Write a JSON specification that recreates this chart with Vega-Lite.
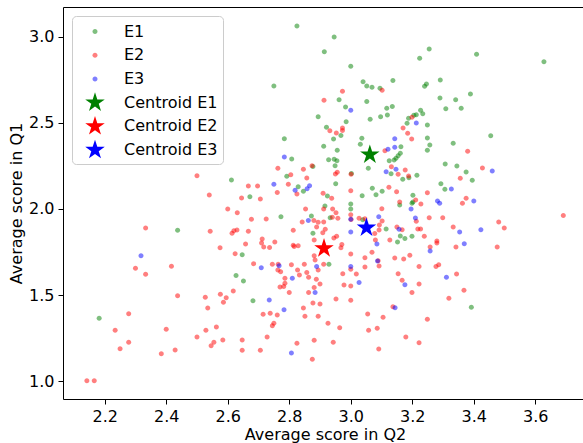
{
"$schema":"https://vega.github.io/schema/vega-lite/v6.json",
"width":520,"height":392,
"autosize":{"type":"none"},
"padding":{"left":63,"top":7,"right":0,"bottom":44},
"datasets":{
"pts":[
{"q2":2.825,"q1":3.062,"group":"E1"},{"q2":2.946,"q1":2.998,"group":"E1"},{"q2":2.914,"q1":2.913,"group":"E1"},{"q2":3.000,"q1":2.828,"group":"E1"},{"q2":2.750,"q1":2.714,"group":"E1"},{"q2":3.040,"q1":2.739,"group":"E1"},{"q2":3.052,"q1":2.714,"group":"E1"},{"q2":3.069,"q1":2.706,"group":"E1"},{"q2":3.095,"q1":2.700,"group":"E1"},{"q2":3.137,"q1":2.745,"group":"E1"},{"q2":2.962,"q1":2.634,"group":"E1"},{"q2":2.983,"q1":2.592,"group":"E1"},{"q2":3.052,"q1":2.623,"group":"E1"},{"q2":3.117,"q1":2.584,"group":"E1"},{"q2":3.135,"q1":2.594,"group":"E1"},{"q2":3.097,"q1":2.535,"group":"E1"},{"q2":3.119,"q1":2.545,"group":"E1"},{"q2":3.063,"q1":2.520,"group":"E1"},{"q2":3.188,"q1":2.526,"group":"E1"},{"q2":2.894,"q1":2.535,"group":"E1"},{"q2":2.985,"q1":2.506,"group":"E1"},{"q2":2.921,"q1":2.474,"group":"E1"},{"q2":2.968,"q1":2.427,"group":"E1"},{"q2":2.944,"q1":2.406,"group":"E1"},{"q2":2.784,"q1":2.408,"group":"E1"},{"q2":3.036,"q1":2.410,"group":"E1"},{"q2":3.183,"q1":2.497,"group":"E1"},
{"q2":3.255,"q1":2.929,"group":"E1"},{"q2":3.224,"q1":2.875,"group":"E1"},{"q2":3.409,"q1":2.898,"group":"E1"},{"q2":3.628,"q1":2.855,"group":"E1"},{"q2":3.291,"q1":2.749,"group":"E1"},{"q2":3.246,"q1":2.725,"group":"E1"},{"q2":3.240,"q1":2.712,"group":"E1"},{"q2":3.389,"q1":2.667,"group":"E1"},{"q2":3.290,"q1":2.644,"group":"E1"},{"q2":3.341,"q1":2.634,"group":"E1"},{"q2":3.309,"q1":2.582,"group":"E1"},{"q2":3.359,"q1":2.584,"group":"E1"},{"q2":3.227,"q1":2.573,"group":"E1"},{"q2":3.234,"q1":2.553,"group":"E1"},{"q2":3.213,"q1":2.547,"group":"E1"},{"q2":3.205,"q1":2.544,"group":"E1"},{"q2":3.249,"q1":2.487,"group":"E1"},{"q2":3.249,"q1":2.412,"group":"E1"},{"q2":3.455,"q1":2.425,"group":"E1"},
{"q2":2.612,"q1":2.168,"group":"E1"},{"q2":2.437,"q1":1.876,"group":"E1"},
{"q2":2.912,"q1":2.364,"group":"E1"},{"q2":2.956,"q1":2.340,"group":"E1"},{"q2":3.031,"q1":2.375,"group":"E1"},{"q2":3.163,"q1":2.361,"group":"E1"},{"q2":3.154,"q1":2.309,"group":"E1"},{"q2":3.161,"q1":2.323,"group":"E1"},{"q2":3.147,"q1":2.294,"group":"E1"},{"q2":3.141,"q1":2.284,"group":"E1"},{"q2":3.125,"q1":2.280,"group":"E1"},{"q2":2.808,"q1":2.290,"group":"E1"},{"q2":2.928,"q1":2.286,"group":"E1"},{"q2":2.946,"q1":2.288,"group":"E1"},{"q2":2.955,"q1":2.280,"group":"E1"},{"q2":2.877,"q1":2.246,"group":"E1"},{"q2":2.949,"q1":2.251,"group":"E1"},{"q2":3.002,"q1":2.205,"group":"E1"},{"q2":3.057,"q1":2.236,"group":"E1"},{"q2":3.131,"q1":2.204,"group":"E1"},{"q2":3.169,"q1":2.172,"group":"E1"},{"q2":2.792,"q1":2.189,"group":"E1"},{"q2":2.829,"q1":2.129,"group":"E1"},{"q2":2.846,"q1":2.102,"group":"E1"},{"q2":2.951,"q1":2.146,"group":"E1"},{"q2":2.924,"q1":2.075,"group":"E1"},{"q2":3.037,"q1":2.077,"group":"E1"},{"q2":3.070,"q1":2.120,"group":"E1"},{"q2":3.102,"q1":2.102,"group":"E1"},{"q2":3.082,"q1":2.082,"group":"E1"},{"q2":3.159,"q1":2.023,"group":"E1"},{"q2":2.672,"q1":2.071,"group":"E1"},{"q2":2.916,"q1":2.017,"group":"E1"},{"q2":3.000,"q1":2.028,"group":"E1"},{"q2":3.000,"q1":1.999,"group":"E1"},{"q2":2.933,"q1":1.949,"group":"E1"},{"q2":2.872,"q1":1.959,"group":"E1"},{"q2":2.877,"q1":1.858,"group":"E1"},{"q2":2.773,"q1":1.955,"group":"E1"},{"q2":2.647,"q1":1.734,"group":"E1"},{"q2":2.929,"q1":1.678,"group":"E1"},{"q2":3.039,"q1":1.937,"group":"E1"},{"q2":3.115,"q1":1.883,"group":"E1"},{"q2":3.161,"q1":1.843,"group":"E1"},{"q2":3.176,"q1":1.828,"group":"E1"},{"q2":3.152,"q1":1.808,"group":"E1"},
{"q2":3.257,"q1":2.371,"group":"E1"},{"q2":3.249,"q1":2.340,"group":"E1"},{"q2":3.333,"q1":2.381,"group":"E1"},{"q2":3.307,"q1":2.261,"group":"E1"},{"q2":3.345,"q1":2.249,"group":"E1"},{"q2":3.375,"q1":2.214,"group":"E1"},{"q2":3.395,"q1":2.166,"group":"E1"},{"q2":3.189,"q1":2.181,"group":"E1"},{"q2":3.215,"q1":2.195,"group":"E1"},{"q2":3.293,"q1":2.146,"group":"E1"},{"q2":3.306,"q1":2.114,"group":"E1"},{"q2":3.202,"q1":2.079,"group":"E1"},{"q2":3.199,"q1":2.033,"group":"E1"},{"q2":3.202,"q1":2.040,"group":"E1"},{"q2":3.199,"q1":1.841,"group":"E1"},
{"q2":2.627,"q1":1.614,"group":"E1"},{"q2":2.182,"q1":1.365,"group":"E1"},{"q2":2.651,"q1":1.581,"group":"E1"},{"q2":2.682,"q1":1.467,"group":"E1"},{"q2":3.392,"q1":1.429,"group":"E1"},
{"q2":3.102,"q1":2.689,"group":"E2"},{"q2":2.973,"q1":2.683,"group":"E2"},{"q2":2.913,"q1":2.631,"group":"E2"},{"q2":2.932,"q1":2.454,"group":"E2"},{"q2":2.953,"q1":2.441,"group":"E2"},{"q2":2.973,"q1":2.470,"group":"E2"},{"q2":2.973,"q1":2.455,"group":"E2"},{"q2":3.170,"q1":2.470,"group":"E2"},{"q2":3.185,"q1":2.439,"group":"E2"},{"q2":3.199,"q1":2.532,"group":"E2"},{"q2":3.198,"q1":2.406,"group":"E2"},
{"q2":2.500,"q1":2.193,"group":"E2"},{"q2":2.540,"q1":2.081,"group":"E2"},{"q2":2.600,"q1":1.999,"group":"E2"},{"q2":2.333,"q1":1.889,"group":"E2"},{"q2":2.543,"q1":1.870,"group":"E2"},{"q2":2.614,"q1":1.858,"group":"E2"},{"q2":2.620,"q1":1.873,"group":"E2"},{"q2":2.575,"q1":1.775,"group":"E2"},{"q2":2.300,"q1":1.655,"group":"E2"},{"q2":2.417,"q1":1.667,"group":"E2"},{"q2":2.624,"q1":1.740,"group":"E2"},
{"q2":3.111,"q1":2.338,"group":"E2"},{"q2":2.874,"q1":2.251,"group":"E2"},{"q2":2.763,"q1":2.236,"group":"E2"},{"q2":2.846,"q1":2.230,"group":"E2"},{"q2":2.956,"q1":2.213,"group":"E2"},{"q2":2.950,"q1":2.203,"group":"E2"},{"q2":3.001,"q1":2.201,"group":"E2"},{"q2":3.132,"q1":2.245,"group":"E2"},{"q2":3.154,"q1":2.201,"group":"E2"},{"q2":3.177,"q1":2.226,"group":"E2"},{"q2":2.805,"q1":2.199,"group":"E2"},{"q2":2.857,"q1":2.179,"group":"E2"},{"q2":2.797,"q1":2.143,"group":"E2"},{"q2":2.667,"q1":2.133,"group":"E2"},{"q2":2.697,"q1":2.133,"group":"E2"},{"q2":2.761,"q1":2.096,"group":"E2"},{"q2":2.825,"q1":2.087,"group":"E2"},{"q2":2.910,"q1":2.091,"group":"E2"},{"q2":2.938,"q1":2.062,"group":"E2"},{"q2":3.000,"q1":2.106,"group":"E2"},{"q2":3.124,"q1":2.126,"group":"E2"},{"q2":3.149,"q1":2.100,"group":"E2"},{"q2":3.159,"q1":2.040,"group":"E2"},{"q2":2.645,"q1":2.063,"group":"E2"},{"q2":2.706,"q1":2.058,"group":"E2"},{"q2":2.631,"q1":1.978,"group":"E2"},{"q2":2.853,"q1":1.999,"group":"E2"},{"q2":2.912,"q1":1.999,"group":"E2"},{"q2":2.941,"q1":1.999,"group":"E2"},{"q2":2.952,"q1":1.978,"group":"E2"},{"q2":2.958,"q1":1.946,"group":"E2"},{"q2":2.940,"q1":1.951,"group":"E2"},{"q2":2.842,"q1":1.924,"group":"E2"},{"q2":2.880,"q1":1.932,"group":"E2"},{"q2":2.894,"q1":1.922,"group":"E2"},{"q2":2.912,"q1":1.924,"group":"E2"},{"q2":2.889,"q1":1.895,"group":"E2"},{"q2":2.917,"q1":1.882,"group":"E2"},{"q2":2.909,"q1":1.862,"group":"E2"},{"q2":2.881,"q1":1.819,"group":"E2"},{"q2":2.945,"q1":1.831,"group":"E2"},{"q2":2.954,"q1":1.841,"group":"E2"},{"q2":2.971,"q1":1.794,"group":"E2"},{"q2":2.968,"q1":1.775,"group":"E2"},{"q2":2.813,"q1":1.876,"group":"E2"},{"q2":2.813,"q1":1.789,"group":"E2"},{"q2":2.816,"q1":1.781,"group":"E2"},{"q2":2.725,"q1":1.941,"group":"E2"},{"q2":2.677,"q1":1.940,"group":"E2"},{"q2":2.630,"q1":1.878,"group":"E2"},{"q2":2.667,"q1":1.870,"group":"E2"},{"q2":2.712,"q1":1.825,"group":"E2"},{"q2":2.710,"q1":1.802,"group":"E2"},{"q2":2.717,"q1":1.779,"group":"E2"},{"q2":2.736,"q1":1.776,"group":"E2"},{"q2":2.658,"q1":1.796,"group":"E2"},{"q2":2.753,"q1":1.808,"group":"E2"},{"q2":2.829,"q1":1.786,"group":"E2"},{"q2":2.684,"q1":1.682,"group":"E2"},{"q2":2.745,"q1":1.678,"group":"E2"},{"q2":2.764,"q1":1.678,"group":"E2"},{"q2":2.807,"q1":1.676,"group":"E2"},{"q2":2.849,"q1":1.678,"group":"E2"},{"q2":2.827,"q1":1.645,"group":"E2"},{"q2":2.881,"q1":1.728,"group":"E2"},{"q2":2.884,"q1":1.703,"group":"E2"},{"q2":2.912,"q1":1.678,"group":"E2"},{"q2":3.000,"q1":1.738,"group":"E2"},{"q2":3.000,"q1":1.966,"group":"E2"},{"q2":3.001,"q1":1.938,"group":"E2"},{"q2":3.027,"q1":1.946,"group":"E2"},{"q2":3.046,"q1":1.943,"group":"E2"},{"q2":3.101,"q1":2.001,"group":"E2"},{"q2":3.102,"q1":1.930,"group":"E2"},{"q2":3.093,"q1":1.907,"group":"E2"},{"q2":3.092,"q1":1.878,"group":"E2"},{"q2":3.150,"q1":1.895,"group":"E2"},{"q2":3.167,"q1":1.879,"group":"E2"},{"q2":3.127,"q1":1.819,"group":"E2"},{"q2":3.078,"q1":1.857,"group":"E2"},{"q2":3.080,"q1":1.819,"group":"E2"},{"q2":3.069,"q1":1.748,"group":"E2"},{"q2":3.046,"q1":1.717,"group":"E2"},{"q2":3.089,"q1":1.699,"group":"E2"},{"q2":3.092,"q1":1.668,"group":"E2"},{"q2":3.143,"q1":1.715,"group":"E2"},{"q2":3.172,"q1":1.709,"group":"E2"},{"q2":3.046,"q1":1.662,"group":"E2"},
{"q2":3.380,"q1":2.335,"group":"E2"},{"q2":3.428,"q1":2.238,"group":"E2"},{"q2":3.356,"q1":2.178,"group":"E2"},{"q2":3.188,"q1":2.191,"group":"E2"},{"q2":3.249,"q1":2.094,"group":"E2"},{"q2":3.211,"q1":2.052,"group":"E2"},{"q2":3.228,"q1":2.028,"group":"E2"},{"q2":3.375,"q1":2.062,"group":"E2"},{"q2":3.363,"q1":2.033,"group":"E2"},{"q2":3.213,"q1":1.928,"group":"E2"},{"q2":3.255,"q1":1.949,"group":"E2"},{"q2":3.299,"q1":1.949,"group":"E2"},{"q2":3.218,"q1":1.883,"group":"E2"},{"q2":3.227,"q1":1.883,"group":"E2"},{"q2":3.333,"q1":1.895,"group":"E2"},{"q2":3.481,"q1":1.924,"group":"E2"},{"q2":3.499,"q1":1.889,"group":"E2"},{"q2":3.691,"q1":1.961,"group":"E2"},{"q2":3.239,"q1":1.841,"group":"E2"},{"q2":3.258,"q1":1.779,"group":"E2"},{"q2":3.280,"q1":1.814,"group":"E2"},{"q2":3.280,"q1":1.802,"group":"E2"},{"q2":3.342,"q1":1.779,"group":"E2"},{"q2":3.476,"q1":1.779,"group":"E2"},{"q2":3.192,"q1":1.731,"group":"E2"},{"q2":3.222,"q1":1.665,"group":"E2"},{"q2":3.277,"q1":1.665,"group":"E2"},{"q2":3.286,"q1":1.676,"group":"E2"},
{"q2":2.333,"q1":1.620,"group":"E2"},{"q2":2.437,"q1":1.496,"group":"E2"},{"q2":2.527,"q1":1.487,"group":"E2"},{"q2":2.576,"q1":1.504,"group":"E2"},{"q2":2.595,"q1":1.484,"group":"E2"},{"q2":2.586,"q1":1.458,"group":"E2"},{"q2":2.535,"q1":1.425,"group":"E2"},{"q2":2.618,"q1":1.523,"group":"E2"},{"q2":2.278,"q1":1.391,"group":"E2"},{"q2":2.234,"q1":1.295,"group":"E2"},{"q2":2.278,"q1":1.225,"group":"E2"},{"q2":2.250,"q1":1.188,"group":"E2"},{"q2":2.400,"q1":1.301,"group":"E2"},{"q2":2.384,"q1":1.159,"group":"E2"},{"q2":2.429,"q1":1.181,"group":"E2"},{"q2":2.500,"q1":1.256,"group":"E2"},{"q2":2.529,"q1":1.295,"group":"E2"},{"q2":2.563,"q1":1.314,"group":"E2"},{"q2":2.555,"q1":1.225,"group":"E2"},{"q2":2.546,"q1":1.206,"group":"E2"},{"q2":2.584,"q1":1.239,"group":"E2"},{"q2":2.142,"q1":1.002,"group":"E2"},{"q2":2.166,"q1":1.002,"group":"E2"},
{"q2":2.763,"q1":1.645,"group":"E2"},{"q2":2.772,"q1":1.635,"group":"E2"},{"q2":2.786,"q1":1.597,"group":"E2"},{"q2":2.833,"q1":1.616,"group":"E2"},{"q2":2.857,"q1":1.630,"group":"E2"},{"q2":2.863,"q1":1.603,"group":"E2"},{"q2":2.894,"q1":1.645,"group":"E2"},{"q2":2.888,"q1":1.591,"group":"E2"},{"q2":2.900,"q1":1.564,"group":"E2"},{"q2":2.881,"q1":1.543,"group":"E2"},{"q2":2.863,"q1":1.514,"group":"E2"},{"q2":2.800,"q1":1.514,"group":"E2"},{"q2":2.770,"q1":1.547,"group":"E2"},{"q2":2.782,"q1":1.550,"group":"E2"},{"q2":2.786,"q1":1.568,"group":"E2"},{"q2":2.974,"q1":1.624,"group":"E2"},{"q2":3.000,"q1":1.649,"group":"E2"},{"q2":3.018,"q1":1.622,"group":"E2"},{"q2":2.978,"q1":1.558,"group":"E2"},{"q2":3.000,"q1":1.552,"group":"E2"},{"q2":3.000,"q1":1.469,"group":"E2"},{"q2":2.952,"q1":1.477,"group":"E2"},{"q2":3.154,"q1":1.624,"group":"E2"},{"q2":3.167,"q1":1.585,"group":"E2"},{"q2":2.715,"q1":1.388,"group":"E2"},{"q2":2.738,"q1":1.394,"group":"E2"},{"q2":2.761,"q1":1.384,"group":"E2"},{"q2":2.750,"q1":1.336,"group":"E2"},{"q2":2.745,"q1":1.322,"group":"E2"},{"q2":2.728,"q1":1.256,"group":"E2"},{"q2":2.647,"q1":1.239,"group":"E2"},{"q2":2.647,"q1":1.179,"group":"E2"},{"q2":2.706,"q1":1.179,"group":"E2"},{"q2":2.825,"q1":1.220,"group":"E2"},{"q2":2.875,"q1":1.127,"group":"E2"},{"q2":2.881,"q1":1.237,"group":"E2"},{"q2":2.943,"q1":1.225,"group":"E2"},{"q2":2.846,"q1":1.425,"group":"E2"},{"q2":2.851,"q1":1.376,"group":"E2"},{"q2":2.877,"q1":1.454,"group":"E2"},{"q2":2.900,"q1":1.448,"group":"E2"},{"q2":2.894,"q1":1.376,"group":"E2"},{"q2":2.926,"q1":1.336,"group":"E2"},{"q2":2.964,"q1":1.310,"group":"E2"},{"q2":3.055,"q1":1.390,"group":"E2"},{"q2":3.105,"q1":1.371,"group":"E2"},{"q2":3.058,"q1":1.295,"group":"E2"},{"q2":3.086,"q1":1.307,"group":"E2"},{"q2":3.091,"q1":1.186,"group":"E2"},{"q2":3.137,"q1":1.432,"group":"E2"},{"q2":3.179,"q1":1.256,"group":"E2"},
{"q2":3.344,"q1":1.622,"group":"E2"},{"q2":3.222,"q1":1.564,"group":"E2"},{"q2":3.199,"q1":1.514,"group":"E2"},{"q2":3.368,"q1":1.527,"group":"E2"},{"q2":3.319,"q1":1.481,"group":"E2"},{"q2":3.249,"q1":1.359,"group":"E2"},{"q2":3.222,"q1":1.223,"group":"E2"},
{"q2":3.000,"q1":2.573,"group":"E3"},{"q2":3.143,"q1":2.408,"group":"E3"},{"q2":3.213,"q1":2.499,"group":"E3"},{"q2":2.318,"q1":1.728,"group":"E3"},{"q2":3.121,"q1":2.346,"group":"E3"},{"q2":3.143,"q1":2.358,"group":"E3"},{"q2":2.784,"q1":2.301,"group":"E3"},{"q2":3.147,"q1":2.230,"group":"E3"},{"q2":3.115,"q1":2.216,"group":"E3"},{"q2":2.750,"q1":2.143,"group":"E3"},{"q2":2.819,"q1":2.108,"group":"E3"},{"q2":2.866,"q1":2.135,"group":"E3"},{"q2":2.858,"q1":2.117,"group":"E3"},{"q2":2.862,"q1":1.932,"group":"E3"},{"q2":2.767,"q1":1.670,"group":"E3"},{"q2":2.709,"q1":1.659,"group":"E3"},{"q2":2.889,"q1":1.665,"group":"E3"},{"q2":3.000,"q1":1.866,"group":"E3"},{"q2":3.000,"q1":1.940,"group":"E3"},{"q2":3.091,"q1":1.955,"group":"E3"},{"q2":3.157,"q1":1.882,"group":"E3"},{"q2":3.085,"q1":1.796,"group":"E3"},{"q2":3.087,"q1":1.697,"group":"E3"},{"q2":3.000,"q1":1.665,"group":"E3"},{"q2":3.460,"q1":2.220,"group":"E3"},{"q2":3.327,"q1":2.116,"group":"E3"},{"q2":3.196,"q1":1.999,"group":"E3"},{"q2":3.282,"q1":2.046,"group":"E3"},{"q2":3.289,"q1":2.033,"group":"E3"},{"q2":3.400,"q1":2.046,"group":"E3"},{"q2":3.210,"q1":1.947,"group":"E3"},{"q2":3.354,"q1":1.866,"group":"E3"},{"q2":3.423,"q1":1.879,"group":"E3"},{"q2":3.258,"q1":1.755,"group":"E3"},{"q2":3.369,"q1":1.798,"group":"E3"},{"q2":2.810,"q1":1.597,"group":"E3"},{"q2":2.884,"q1":1.514,"group":"E3"},{"q2":3.027,"q1":1.572,"group":"E3"},{"q2":3.176,"q1":1.560,"group":"E3"},{"q2":2.735,"q1":1.471,"group":"E3"},{"q2":2.783,"q1":1.415,"group":"E3"},{"q2":2.807,"q1":1.163,"group":"E3"},{"q2":3.144,"q1":1.426,"group":"E3"},{"q2":3.311,"q1":1.603,"group":"E3"}
],
"cents":[
{"q2":3.062,"q1":2.315,"group":"Centroid E1"},
{"q2":2.913,"q1":1.771,"group":"Centroid E2"},
{"q2":3.051,"q1":1.891,"group":"Centroid E3"}
]
},
"layer":[
{"data":{"name":"pts"},
 "mark":{"type":"point","filled":true,"strokeWidth":0,"size":420,"opacity":1},
 "encoding":{
  "x":{"field":"q2","type":"quantitative","scale":{"domain":[2.0644,3.755],"nice":false,"zero":false},
       "axis":{"title":"Average score in Q2","values":[2.2,2.4,2.6,2.8,3.0,3.2,3.4,3.6],"format":".1f","orient":"bottom","titleX":262,"titleY":35,"titleBaseline":"middle"}},
  "y":{"field":"q1","type":"quantitative","scale":{"domain":[0.8961,3.1725],"nice":false,"zero":false},
       "axis":{"title":"Average score in Q1","values":[1.0,1.5,2.0,2.5,3.0],"format":".1f"}},
  "color":{"field":"group","type":"nominal",
    "scale":{"domain":["E1","E2","E3","Centroid E1","Centroid E2","Centroid E3"],"range":["rgba(0,128,0,0.5)","rgba(255,0,0,0.5)","rgba(0,0,255,0.5)","#008000","#ff0000","#0000ff"]},
    "legend":{"title":null,"orient":"none","legendX":9,"legendY":9,"padding":5,"symbolOffset":7.5,"labelOffset":18.5,"rowPadding":4.7,"symbolSize":420,"symbolOpacity":1,"fillColor":"rgba(255,255,255,0.8)","strokeColor":"#cccccc","cornerRadius":4,"symbolStrokeWidth":0,"labelLimit":300}},
  "shape":{"field":"group","type":"nominal",
    "scale":{"domain":["E1","E2","E3","Centroid E1","Centroid E2","Centroid E3"],"range":["M0.244,0A0.244,0.244,0,1,1,-0.244,0A0.244,0.244,0,1,1,0.244,0Z","M0.244,0A0.244,0.244,0,1,1,-0.244,0A0.244,0.244,0,1,1,0.244,0Z","M0.244,0A0.244,0.244,0,1,1,-0.244,0A0.244,0.244,0,1,1,0.244,0Z","M0,-1L0.2245,-0.309L0.9511,-0.309L0.3633,0.118L0.5878,0.809L0,0.382L-0.5878,0.809L-0.3633,0.118L-0.9511,-0.309L-0.2245,-0.309Z","M0,-1L0.2245,-0.309L0.9511,-0.309L0.3633,0.118L0.5878,0.809L0,0.382L-0.5878,0.809L-0.3633,0.118L-0.9511,-0.309L-0.2245,-0.309Z","M0,-1L0.2245,-0.309L0.9511,-0.309L0.3633,0.118L0.5878,0.809L0,0.382L-0.5878,0.809L-0.3633,0.118L-0.9511,-0.309L-0.2245,-0.309Z"]}}
 }},
{"data":{"name":"cents"},
 "mark":{"type":"point","filled":true,"strokeWidth":0,"size":420,"opacity":1},
 "encoding":{
  "x":{"field":"q2","type":"quantitative","axis":{"orient":"top","labels":false,"ticks":false,"domain":true,"title":null}},
  "y":{"field":"q1","type":"quantitative"},
  "color":{"field":"group","type":"nominal"},
  "shape":{"field":"group","type":"nominal"}
 }}
],
"resolve":{"axis":{"x":"independent"}},
"config":{
 "view":{"stroke":null},
 "font":"DejaVu Sans",
 "axis":{"grid":false,"domainColor":"black","domainWidth":1,"tickColor":"black","tickWidth":1,"tickSize":5,"labelFont":"DejaVu Sans","labelFontSize":16,"labelColor":"black","labelPadding":4,"titleFont":"DejaVu Sans","titleFontSize":16,"titleFontWeight":"normal","titleColor":"black","titlePadding":4},
 "legend":{"labelFont":"DejaVu Sans","labelFontSize":16,"labelColor":"black"}
}
}
